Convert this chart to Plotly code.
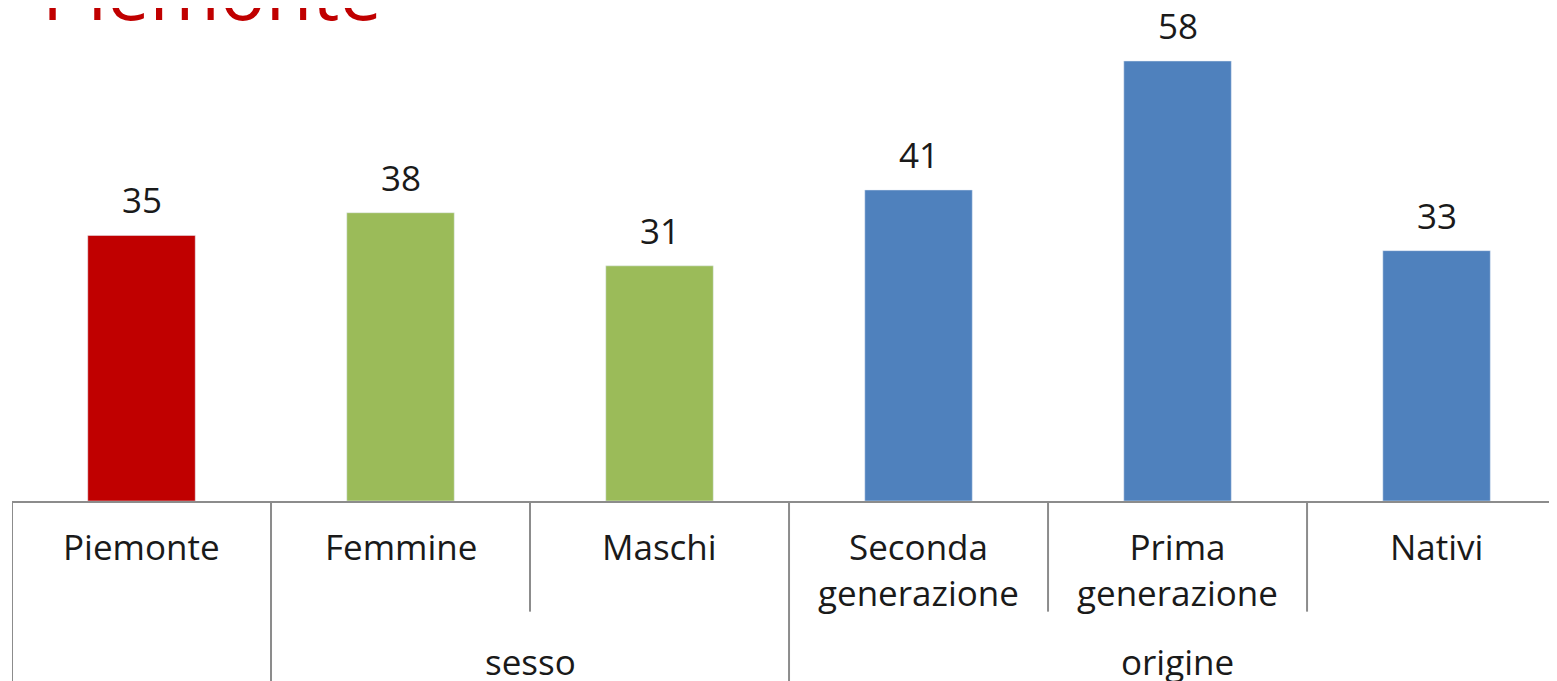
import plotly.graph_objects as go

categories = ["Piemonte", "Femmine", "Maschi", "Seconda<br>generazione", "Prima<br>generazione", "Nativi"]
values = [35, 38, 31, 41, 58, 33]
groups = ["", "sesso", "sesso", "origine", "origine", "origine"]
title_text = "Piemonte"

bar_colors = ["#C00000", "#9BBB59", "#9BBB59", "#4F81BD", "#4F81BD", "#4F81BD"]
FONT = "Open Sans"
TXT = "#1a1a1a"
GRID = "#8c8c8c"

idx = list(range(len(categories)))

fig = go.Figure()
fig.add_trace(go.Bar(x=idx, y=values, marker_color=bar_colors, width=0.415,
                     hoverinfo="skip"))

annotations = []
# value labels
for i, v in zip(idx, values):
    annotations.append(dict(x=i, y=v, xref="x", yref="y", text=str(v), showarrow=False,
                            yanchor="bottom", yshift=10,
                            font=dict(family=FONT, size=35, color=TXT)))
# category labels
for i, c in zip(idx, categories):
    annotations.append(dict(x=i, y=0, xref="x", yref="y", text=c, showarrow=False,
                            yanchor="top", yshift=-20, align="center",
                            font=dict(family=FONT, size=35, color=TXT)))
# group labels
seen = []
for g in groups:
    if g and g not in seen:
        seen.append(g)
for g in seen:
    members = [i for i, gg in zip(idx, groups) if gg == g]
    center = (min(members) + max(members)) / 2
    annotations.append(dict(x=center, y=0, xref="x", yref="y", text=g, showarrow=False,
                            yanchor="top", yshift=-135,
                            font=dict(family=FONT, size=35, color=TXT)))
# title
annotations.append(dict(x=0, y=1.0, xref="paper", yref="paper", text=title_text,
                        showarrow=False, xanchor="left", yanchor="bottom", xshift=28, yshift=-4,
                        font=dict(family=FONT, size=76, color="#C00000")))

# dividers: full height between groups, short between categories within a group
shapes = []
n = len(categories)
for b in range(n + 1):
    xb = b - 0.5
    if b == 0 or b == n:
        full = True
    else:
        full = groups[b - 1] != groups[b]
    y1 = -0.6 if full else -0.24
    shapes.append(dict(type="line", xref="x", yref="paper", x0=xb, x1=xb, y0=0, y1=y1,
                       line=dict(color=GRID, width=2)))

fig.update_layout(
    width=1549, height=673,
    margin=dict(l=4, r=0, t=32, b=180),
    plot_bgcolor="white", paper_bgcolor="white",
    showlegend=False,
    annotations=annotations,
    shapes=shapes,
    xaxis=dict(range=[-0.5, 5.465], showticklabels=False, showgrid=False, zeroline=False,
               showline=True, linecolor=GRID, linewidth=2, ticks=""),
    yaxis=dict(range=[0, 60.77], visible=False, showgrid=False, zeroline=False),
)

fig.write_html("out.html")
